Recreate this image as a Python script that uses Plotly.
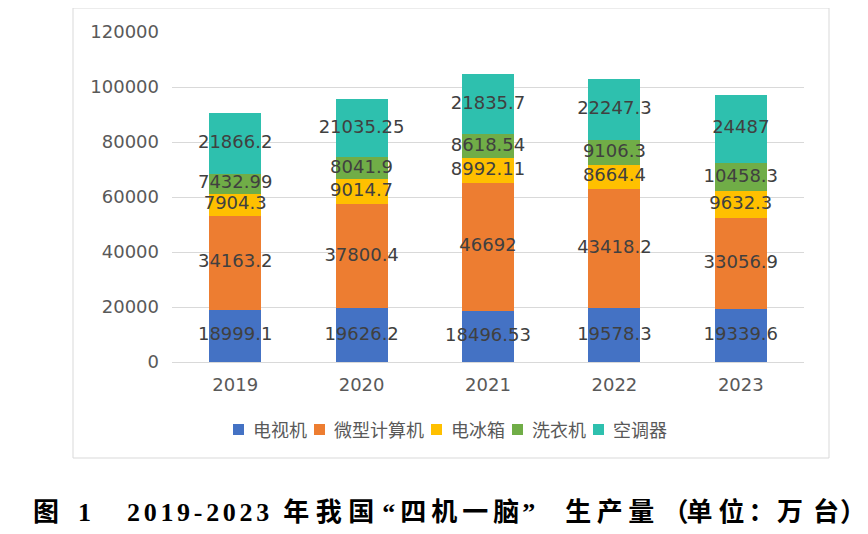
import plotly.graph_objects as go
import numpy as np

years = ["2019", "2020", "2021", "2022", "2023"]
series_names = ["电视机", "微型计算机", "电冰箱", "洗衣机", "空调器"]
tv = [18999.1, 19626.2, 18496.53, 19578.3, 19339.6]
pc = [34163.2, 37800.4, 46692, 43418.2, 33056.9]
fridge = [7904.3, 9014.7, 8992.11, 8664.4, 9632.3]
washer = [7432.99, 8041.9, 8618.54, 9106.3, 10458.3]
ac = [21866.2, 21035.25, 21835.7, 22247.3, 24487]
label_text = [
    ["18999.1", "19626.2", "18496.53", "19578.3", "19339.6"],
    ["34163.2", "37800.4", "46692", "43418.2", "33056.9"],
    ["7904.3", "9014.7", "8992.11", "8664.4", "9632.3"],
    ["7432.99", "8041.9", "8618.54", "9106.3", "10458.3"],
    ["21866.2", "21035.25", "21835.7", "22247.3", "24487"],
]
colors = ["#4472C4", "#ED7D31", "#FFC000", "#70AD47", "#2EC0AE"]
y_ticks = [0, 20000, 40000, 60000, 80000, 100000, 120000]
y_tick_text = ["0", "20000", "40000", "60000", "80000", "100000", "120000"]

all_series = [tv, pc, fridge, washer, ac]

# page offset (body margin) -> figure coordinates
OFF = 8
FW, FH = 860, 526
L, T = 172 - OFF, 32 - OFF
W, H = 632, 330
R = FW - L - W
B = FH - T - H


def px(xp):
    return (xp - OFF - L) / W


def py(yp):
    return (T + H - (yp - OFF)) / H


fig = go.Figure()
for name, vals, col in zip(series_names, all_series, colors):
    fig.add_trace(go.Bar(x=years, y=vals, name=name, marker=dict(color=col, line=dict(width=0)),
                         width=0.41, hoverinfo="skip", showlegend=False))

base = np.zeros(len(years))
for vals, txt in zip(all_series, label_text):
    v = np.array(vals)
    mid = base + v / 2
    fig.add_trace(go.Scatter(x=years, y=mid, mode="text", text=txt, showlegend=False,
                             textfont=dict(family="DejaVu Sans", size=18, color="#404040"),
                             hoverinfo="skip"))
    base = base + v

# outer chart border
fig.add_shape(type="rect", xref="paper", yref="paper",
              x0=px(73), x1=px(829), y0=py(458), y1=py(8),
              line=dict(color="#D9D9D9", width=1), fillcolor="rgba(0,0,0,0)", layer="below")

# custom legend
sq = 233
ly = 429
for name, col in zip(series_names, colors):
    fig.add_shape(type="rect", xref="paper", yref="paper",
                  x0=px(sq), x1=px(sq + 11), y0=py(ly + 6), y1=py(ly - 5),
                  line=dict(width=0), fillcolor=col)
    tx = sq + 19
    fig.add_annotation(text=name, xref="paper", yref="paper", x=px(tx - 1), y=py(ly),
                       showarrow=False, xanchor="left", yanchor="middle",
                       font=dict(family="Noto Sans CJK SC", size=18, color="#595959"))
    sq = tx + 18 * len(name) + 8

# caption: (text, letter spacing px)
cap_parts = [
    ("图", 19), ("1", 36), ("2019-202", 3.7), ("3", 14),
    ("年我", 6.5), ("国", 8), ("“", 5),
    ("四机一", 5), ("脑", 3), ("”", 30),
    ("生产", 5.5), ("量", 8), ("（", -2),
    ("单", 6), ("位", 4), ("：", 2.5),
    ("万", 10), ("台", 1), ("）", 0),
]
cap = "<b>" + "".join(
    '<span style="letter-spacing:%spx">%s</span>' % (ls, t) for t, ls in cap_parts) + "</b>"
fig.add_annotation(text=cap, xref="paper", yref="paper", x=px(31), y=py(512),
                   showarrow=False, xanchor="left", yanchor="middle",
                   font=dict(family="Liberation Serif, Noto Sans CJK SC", size=26, color="#000000"))

fig.update_layout(
    width=FW, height=FH,
    margin=dict(l=L, r=R, t=T, b=B, autoexpand=False),
    barmode="stack",
    plot_bgcolor="white", paper_bgcolor="white",
    xaxis=dict(showgrid=False, showline=False, ticks="", ticklabelstandoff=10,
               tickfont=dict(family="DejaVu Sans", size=18, color="#595959")),
    yaxis=dict(range=[0, 120000], tickvals=y_ticks, ticktext=y_tick_text, showgrid=True,
               gridcolor="#D9D9D9", gridwidth=1,
               zeroline=True, zerolinecolor="#D9D9D9", zerolinewidth=1,
               tickfont=dict(family="DejaVu Sans", size=18, color="#595959"), ticklabelstandoff=12),
    bargap=0.59,
)

fig.write_html("out.html")
